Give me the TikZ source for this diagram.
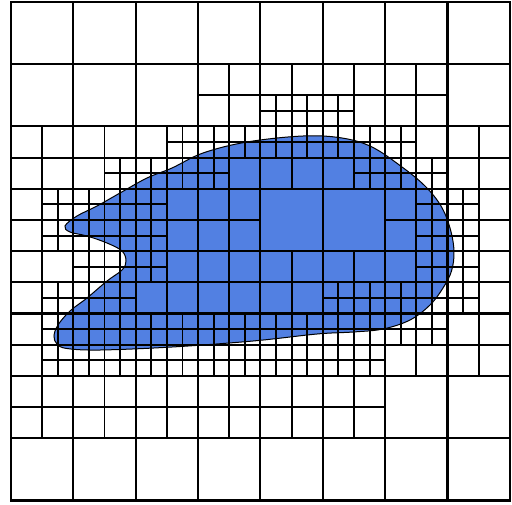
\documentclass[tikz,border=0pt]{standalone}
\definecolor{blobblue}{RGB}{82,128,226}
\tikzset{
  coarse/.style={line width=2.1pt, line cap=rect},
  finer/.style={line width=1.9pt, line cap=rect},
  outer/.style={line width=2.4pt},
  blob/.style={fill=blobblue, draw=black, line width=1pt},
}
\begin{document}
\begin{tikzpicture}[x=1pt,y=-1pt]
\useasboundingbox (0,0) rectangle (512,504);
\path[blob] plot[smooth cycle, tension=0.6] coordinates {
 (65,226) (77,216) (97,206) (120,193) (147,178) (172,168) (203,153) (247,142)
 (303,136) (342,138) (372,147) (402,167) (425,186) (441,206) (450,228)
 (454,251) (451.5,271) (443,288) (430,305) (410,320) (383,329) (353,332)
 (317,334) (253,341) (172,347) (100,350) (67,348.5) (57,344) (54,336)
 (58,325) (70,311) (87,298) (107,281) (122,270) (126,261) (122,251)
 (107,243) (87,236) (70,232)};
\begin{scope}[shift={(11,1.7)},x=15.59pt,y=-15.59pt]
 % coarse cells split into four
 \foreach \i/\j in {3/1,4/1,5/1,6/1,
   0/2,1/2,2/2,3/2,4/2,5/2,6/2,7/2,
   0/3,1/3,2/3,3/3,6/3,7/3,
   0/4,1/4,2/4,3/4,4/4,5/4,6/4,7/4,
   0/5,1/5,2/5,3/5,4/5,5/5,6/5,7/5,
   0/6,1/6,2/6,3/6,4/6,5/6}
   {\draw[finer] ({4*\i},{4*\j+2}) -- ++(4,0) ({4*\i+2},{4*\j}) -- ++(0,4);}
 % mid cells split into four
 \foreach \a/\b in {17/7,19/7,21/7,
   7/11,11/9,9/11,11/11,13/9,15/9,13/11,17/9,19/9,21/9,23/9,23/11,25/9,25/11,27/11,
   3/13,3/15,5/13,7/13,5/15,7/15,9/13,9/15,27/13,27/15,29/13,29/15,
   3/19,5/17,7/17,5/19,7/19,9/17,21/19,23/19,27/17,25/19,27/19,29/17,29/19,
   3/21,3/23,25/21,27/21}
   {\draw[finer] ({\a-1},\b) -- ++(2,0) (\a,{\b-1}) -- ++(0,2);}
 \foreach \a in {5,7,...,23}
   \foreach \b in {21,23}
     {\draw[finer] ({\a-1},\b) -- ++(2,0) (\a,{\b-1}) -- ++(0,2);}
 % coarse grid
 \foreach \k in {4,8,...,28}
   {\draw[coarse] (\k,0) -- (\k,32); \draw[coarse] (0,\k) -- (32,\k);}
 \draw[outer] (0,0) rectangle (32,32);
\end{scope}
\end{tikzpicture}
\end{document}
